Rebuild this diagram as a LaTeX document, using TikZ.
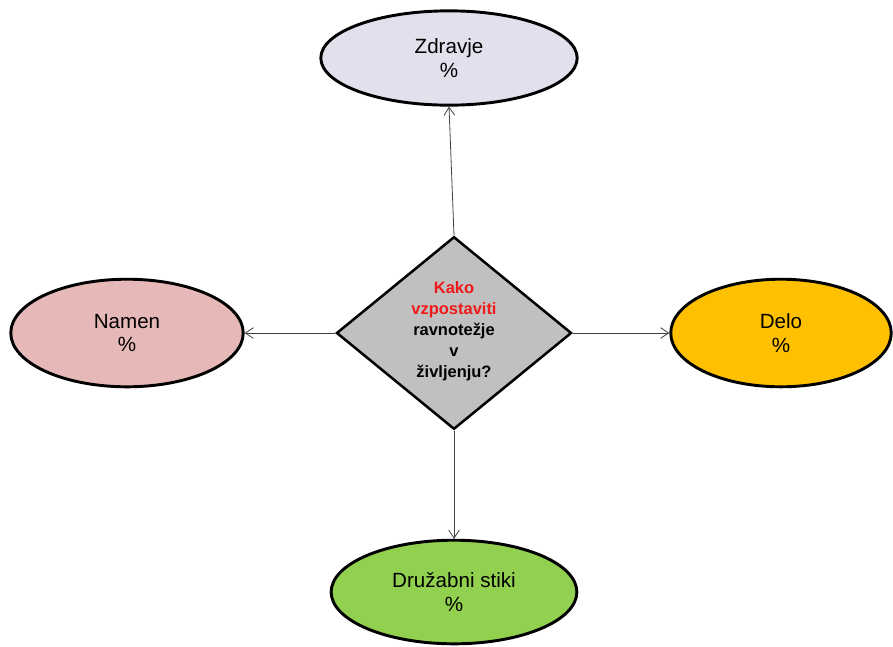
\documentclass[tikz,border=0pt]{standalone}
\usepackage{fontspec}
\setmainfont{Liberation Sans}
\usetikzlibrary{shapes.geometric,arrows.meta}

\definecolor{zdravjefill}{HTML}{E4DFEC}
\definecolor{namenfill}{HTML}{E6B9B8}
\definecolor{delofill}{HTML}{FFC000}
\definecolor{stikifill}{HTML}{92D050}
\definecolor{kakofill}{HTML}{C0C0C0}
\definecolor{kakored}{HTML}{F01818}

\tikzset{
	x=0.02646cm, y=-0.02646cm,
	area/.style={ellipse, draw=black, line width=2.2pt, inner sep=0pt,
		align=center, font=\fontsize{15.5}{18}\selectfont},
	question/.style={diamond, draw=black, line width=1.9pt, fill=kakofill,
		inner sep=0pt, minimum width=177pt, minimum height=145pt},
	link/.style={-{Straight Barb[length=6pt,width=8pt]}, line width=0.6pt, draw=black!75}
}

\begin{document}
\begin{tikzpicture}
		\useasboundingbox (0,0) rectangle (893,646);

		% central question
		\node[question] (kako) at (454,333) {};
		\node[align=center, font=\bfseries\fontsize{12.4}{15.8}\selectfont] (kakotext) at (454,331)
			{\textcolor{kakored}{Kako}\\\textcolor{kakored}{vzpostaviti}\\ravnotežje\\v\\življenju?};

		% the four areas
		\node[area, fill=zdravjefill, minimum width=193pt, minimum height=71pt] (zdravje) at (449,58) {Zdravje\\\%};
		\node[area, fill=namenfill, minimum width=175pt, minimum height=81pt] (namen) at (127,333) {Namen\\\%};
		\node[area, fill=delofill, minimum width=166pt, minimum height=81pt] (delo) at (781,333) {Delo\\\%};
		\node[area, fill=stikifill, minimum width=185pt, minimum height=78pt] (stiki) at (454,592) {Družabni stiki\\\%};

		\draw[link] (kako.north) -- (zdravje.south);
		\draw[link] (kako.west) -- (namen.east);
		\draw[link] (kako.east) -- (delo.west);
		\draw[link] (kako.south) -- (stiki.north);
	\end{tikzpicture}
\end{document}
